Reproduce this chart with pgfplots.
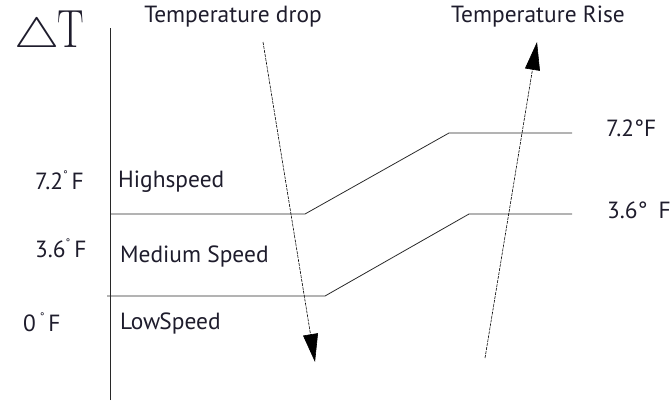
\documentclass[border=0pt]{standalone}
\usepackage{pgfplots}
\pgfplotsset{compat=1.18}
\usepackage{fontspec}
\setmainfont{PT Sans}
\newfontfamily\serifT{Latin Modern Roman}
\usetikzlibrary{arrows.meta}
\definecolor{txt}{RGB}{30,28,44}
\definecolor{ln}{RGB}{40,40,40}
\tikzset{lbl/.style={text=txt, font=\fontsize{23.5}{26}\selectfont, inner sep=0pt}}
\begin{document}
\begin{tikzpicture}
\begin{axis}[
    scale only axis,
    width=670bp, height=400bp,
    xmin=0, xmax=670, ymin=0, ymax=400,
    hide axis,
    clip=false,
]
% vertical axis
\addplot[ln, line width=0.9pt] coordinates {(110,0) (110,372)};
% speed boundaries
\addplot[ln, line width=0.8pt] coordinates {(110,186) (305,186) (449,267) (572,267)};
\addplot[ln, line width=0.8pt] coordinates {(107,104) (325,104) (469,186) (572,186)};
% arrows
\addplot[black, line width=0.6pt, dash pattern=on 3bp off 1bp,
    -{Triangle[length=28bp,width=15bp]}] coordinates {(263,358) (315,38)};
\addplot[black, line width=0.6pt, dash pattern=on 3bp off 1bp,
    -{Triangle[length=28bp,width=15bp]}] coordinates {(485,42) (537,358)};

% texts
\node[lbl] at (axis cs:49,367) {\fontsize{40}{40}\selectfont\scalebox{2.05}[1.7]{$\bigtriangleup$}\hspace{-2bp}\serifT\scalebox{1}[1.35]{T}};
\node[lbl] at (axis cs:233,383) {Temperature drop};
\node[lbl] at (axis cs:538,383) {Temperature Rise};
\node[lbl, anchor=west] at (axis cs:606,272) {7.2°F};
\node[lbl, anchor=west] at (axis cs:607,190) {3.6°\hspace{11bp}F};
\node[lbl, anchor=west] at (axis cs:35,220) {7.2\raisebox{11bp}{\fontsize{11}{11}\selectfont°}\,F};
\node[lbl, anchor=west] at (axis cs:35,152) {3.6\raisebox{11bp}{\fontsize{11}{11}\selectfont°}\,F};
\node[lbl, anchor=west] at (axis cs:23,78) {0\,\raisebox{11bp}{\fontsize{11}{11}\selectfont°}\,F};
\node[lbl, anchor=west] at (axis cs:118,218) {Highspeed};
\node[lbl, anchor=west] at (axis cs:120,143) {Medium Speed};
\node[lbl, anchor=west] at (axis cs:120,76) {Low\hspace{-1bp}Speed};
\end{axis}
\pgfresetboundingbox
\path (current axis.south west) rectangle (current axis.north east);
\end{tikzpicture}
\end{document}
